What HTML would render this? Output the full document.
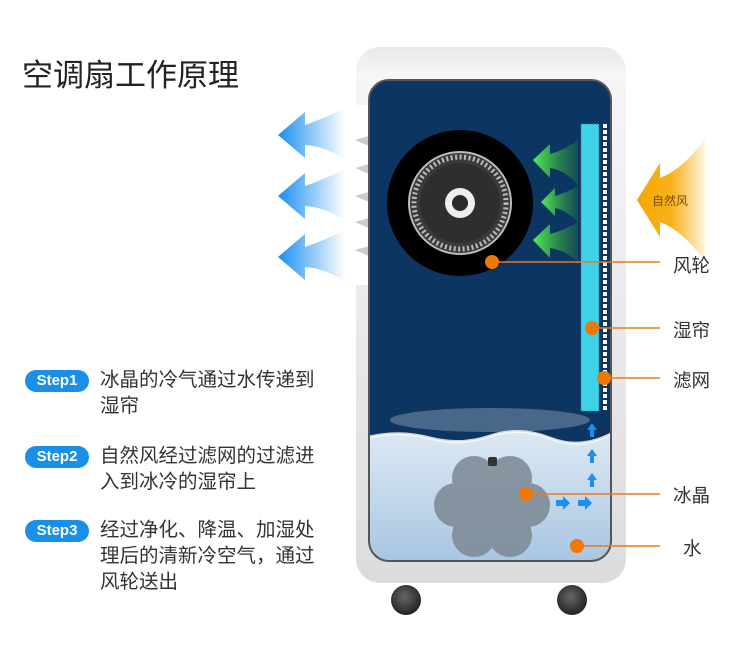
<!DOCTYPE html>
<html><head><meta charset="utf-8"><style>
body{margin:0;background:#fff;width:750px;height:671px;overflow:hidden;position:relative;font-family:"Liberation Sans","Noto Sans CJK SC",sans-serif}
.a{position:absolute}
.title{left:22px;top:50px;font-size:31px;color:#222}
.pill{left:25px;width:64px;height:22px;border-radius:11px;background:#1a8fe8;color:#fff;font-size:15px;font-weight:bold;text-align:center;line-height:22px}
.st{left:100px;font-size:19.5px;color:#333;line-height:26px}
.lb{left:673px;font-size:18.5px;color:#333}
</style></head><body>
<div class="a title">空调扇工作原理</div>
<div class="a pill" style="top:370px">Step1</div>
<div class="a st" style="top:367px">冰晶的冷气通过水传递到<br>湿帘</div>
<div class="a pill" style="top:446px">Step2</div>
<div class="a st" style="top:443px">自然风经过滤网的过滤进<br>入到冰冷的湿帘上</div>
<div class="a pill" style="top:520px">Step3</div>
<div class="a st" style="top:517px">经过净化、降温、加湿处<br>理后的清新冷空气，通过<br>风轮送出</div>
<svg class="a" style="left:0;top:0" width="750" height="671">
<defs>
<linearGradient id="cs" x1="0" y1="0" x2="0" y2="1"><stop offset="0" stop-color="#e8e8e8"/><stop offset=".05" stop-color="#f6f6f6"/><stop offset="1" stop-color="#dcdcdc"/></linearGradient>
<linearGradient id="wt" x1="0" y1="0" x2="0" y2="1"><stop offset="0" stop-color="#dde9f3"/><stop offset="1" stop-color="#a9c6e2"/></linearGradient>
<linearGradient id="bl" x1="0" y1="0" x2="1" y2="0"><stop offset="0" stop-color="#1a8ff0"/><stop offset="1" stop-color="#1a8ff0" stop-opacity="0"/></linearGradient>
<linearGradient id="gr" x1="0" y1="0" x2="1" y2="0"><stop offset="0" stop-color="#55ee55"/><stop offset="1" stop-color="#33aa33" stop-opacity=".2"/></linearGradient>
<linearGradient id="or" x1="1" y1="0" x2="0" y2="0"><stop offset="0" stop-color="#f7a800" stop-opacity=".1"/><stop offset=".5" stop-color="#f7b21a"/><stop offset="1" stop-color="#f5a700"/></linearGradient>
<radialGradient id="wh" cx=".45" cy=".4" r=".6"><stop offset="0" stop-color="#666"/><stop offset="1" stop-color="#222"/></radialGradient>
<clipPath id="ip"><rect x="369" y="80" width="242" height="481" rx="20"/></clipPath>
</defs>
<rect x="356" y="47" width="270" height="536" rx="24" fill="url(#cs)"/>
<rect x="340" y="105" width="30" height="180" fill="#fff"/>
<g fill="#ccc"><polygon points="355,140 369,136 369,146"/><polygon points="355,168 369,164 369,174"/><polygon points="355,196 369,192 369,202"/><polygon points="355,222 369,218 369,228"/><polygon points="355,250 369,246 369,256"/></g>
<g clip-path="url(#ip)">
<rect x="369" y="80" width="242" height="481" fill="#0d3562"/>
<path d="M369 437 Q400 430 430 438 T490 436 T550 438 T611 434 V561 H369Z" fill="url(#wt)"/>
<path d="M369 437 Q400 430 430 438 T490 436 T550 438 T611 434" stroke="#fff" stroke-width="3" fill="none" opacity=".8"/>
<ellipse cx="490" cy="420" rx="100" ry="12" fill="#fff" opacity=".25"/>
</g>
<rect x="369" y="80" width="242" height="481" rx="20" fill="none" stroke="#555" stroke-width="2"/>
<circle cx="460" cy="203" r="73" fill="#000"/>
<circle cx="460" cy="203" r="51" fill="#3a3a3a" stroke="#bbb" stroke-width="2"/>
<circle cx="460" cy="203" r="46" fill="none" stroke="#bbb" stroke-width="5" stroke-dasharray="2 2.5"/>
<circle cx="460" cy="203" r="40" fill="#2e2e2e"/>
<circle cx="460" cy="203" r="15" fill="#eee"/><circle cx="460" cy="203" r="8" fill="#2a2a2a"/>
<rect x="581" y="124" width="18" height="287" fill="#3fd3e8"/>
<rect x="581" y="124" width="18" height="287" fill="none" stroke="#1a8aa8" stroke-width="2" stroke-dasharray="1 3"/>
<line x1="605" y1="124" x2="605" y2="411" stroke="#fff" stroke-width="4" stroke-dasharray="4 2"/>
<g fill="url(#gr)"><path d="M533 160 L550 144 V154 Q565 150 578 140 V185 Q565 170 550 168 V178Z"/><path d="M541 202 L555 188 V196 Q566 193 578 186 V222 Q566 210 555 208 V216Z"/><path d="M533 240 L550 224 V234 Q565 230 578 222 V262 Q565 250 550 248 V258Z"/></g>
<g fill="url(#bl)"><path d="M278 135 L305 112 V125 Q325 118 345 108 V160 Q325 146 305 145 V158Z"/><path d="M278 196 L305 173 V186 Q325 179 345 169 V221 Q325 207 305 206 V219Z"/><path d="M278 257 L305 234 V247 Q325 240 345 230 V282 Q325 268 305 267 V280Z"/></g>
<path d="M637 200 L660 163 V178 Q685 168 705 138 V262 Q685 232 660 222 V237Z" fill="url(#or)"/>
<text x="652" y="205" font-size="12" fill="#7a4d00" font-family="Liberation Sans,Noto Sans CJK SC,sans-serif">自然风</text>
<g fill="#7f8c98" opacity=".9"><circle cx="474" cy="478" r="22"/><circle cx="510" cy="478" r="22"/><circle cx="456" cy="505" r="22"/><circle cx="528" cy="505" r="22"/><circle cx="474" cy="535" r="22"/><circle cx="510" cy="535" r="22"/><circle cx="492" cy="505" r="24"/></g>
<rect x="488" y="457" width="9" height="9" rx="2" fill="#333"/>
<g fill="#1a8ff0"><path d="M587 430 L592 423 L597 430 H594 V437 H590 V430Z"/><path d="M587 456 L592 449 L597 456 H594 V463 H590 V456Z"/><path d="M587 480 L592 473 L597 480 H594 V487 H590 V480Z"/><path d="M556 500 H563 V496 L570 503 L563 510 V506 H556Z"/><path d="M578 500 H585 V496 L592 503 L585 510 V506 H578Z"/></g>
<circle cx="406" cy="600" r="15" fill="url(#wh)"/><circle cx="572" cy="600" r="15" fill="url(#wh)"/>
<g stroke="#e87a20" stroke-width="1.5"><line x1="492" y1="262" x2="660" y2="262"/><line x1="592" y1="328" x2="660" y2="328"/><line x1="604" y1="378" x2="660" y2="378"/><line x1="526" y1="494" x2="660" y2="494"/><line x1="577" y1="546" x2="660" y2="546"/></g>
<g fill="#f07800"><circle cx="492" cy="262" r="7"/><circle cx="592" cy="328" r="7"/><circle cx="604" cy="378" r="7"/><circle cx="526" cy="494" r="7"/><circle cx="577" cy="546" r="7"/></g>
</svg>
<div class="a lb" style="top:252px">风轮</div>
<div class="a lb" style="top:317px">湿帘</div>
<div class="a lb" style="top:367px">滤网</div>
<div class="a lb" style="top:482px">冰晶</div>
<div class="a lb" style="top:535px;left:683px">水</div>
</body></html>
